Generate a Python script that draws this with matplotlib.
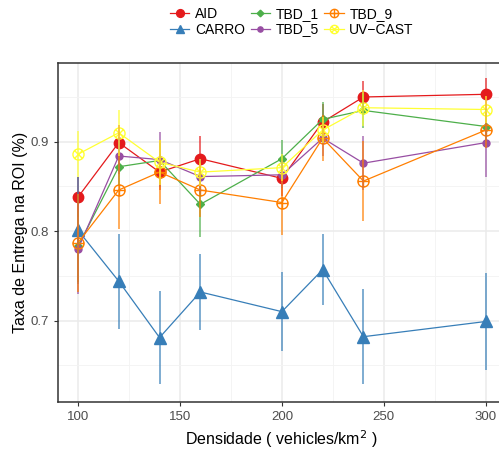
import numpy as np
import matplotlib
matplotlib.use("Agg")
import matplotlib.pyplot as plt
from matplotlib.path import Path
from matplotlib.markers import MarkerStyle

plt.rcParams['font.family'] = ['Liberation Sans', 'DejaVu Sans']

density = [100, 120, 140, 160, 200, 220, 240, 300]

aid = [0.838, 0.899, 0.866, 0.881, 0.859, 0.922, 0.950, 0.953]
aid_err = [0.022, 0.020, 0.020, 0.025, 0.020, 0.020, 0.018, 0.018]

carro = [0.801, 0.744, 0.681, 0.732, 0.710, 0.757, 0.682, 0.699]
carro_err = [0.060, 0.053, 0.052, 0.042, 0.044, 0.040, 0.053, 0.054]

tbd_1 = [0.783, 0.872, 0.879, 0.830, 0.881, 0.925, 0.935, 0.917]
tbd_1_err = [0.040, 0.020, 0.020, 0.037, 0.021, 0.019, 0.020, 0.015]

tbd_5 = [0.780, 0.884, 0.880, 0.861, 0.863, 0.904, 0.876, 0.899]
tbd_5_err = [0.050, 0.020, 0.031, 0.020, 0.015, 0.020, 0.030, 0.038]

tbd_9 = [0.787, 0.846, 0.866, 0.846, 0.832, 0.904, 0.856, 0.913]
tbd_9_err = [0.055, 0.044, 0.036, 0.030, 0.036, 0.026, 0.045, 0.020]

uv_cast = [0.886, 0.910, 0.877, 0.866, 0.871, 0.913, 0.938, 0.936]
uv_cast_err = [0.026, 0.026, 0.025, 0.015, 0.015, 0.015, 0.020, 0.015]


def circle_with(lines):
    circ = Path.unit_circle()
    verts = list(circ.vertices)
    codes = list(circ.codes)
    for (x0, y0), (x1, y1) in lines:
        verts += [(x0, y0), (x1, y1)]
        codes += [Path.MOVETO, Path.LINETO]
    return Path(verts, codes)


d = 0.7071
circle_plus = circle_with([((-1, 0), (1, 0)), ((0, -1), (0, 1))])
circle_x = circle_with([((-d, -d), (d, d)), ((-d, d), (d, -d))])

series = [
    ("AID", aid, aid_err, "#E41A1C", "o", 7.5, True),
    ("CARRO", carro, carro_err, "#377EB8", "^", 8.5, True),
    ("TBD_1", tbd_1, tbd_1_err, "#4DAF4A", "D", 4.5, True),
    ("TBD_5", tbd_5, tbd_5_err, "#984EA3", "o", 5.0, True),
    ("TBD_9", tbd_9, tbd_9_err, "#FF7F00", MarkerStyle(circle_plus), 8.0, False),
    ("UV\u2212CAST", uv_cast, uv_cast_err, "#FFFF33", MarkerStyle(circle_x), 8.0, False),
]

fig = plt.figure(figsize=(4.99, 4.49), dpi=100)
ax = fig.add_axes([0.1154, 0.1047, 0.899, 0.755])

for name, vals, err, col, mk, ms, filled in series:
    ax.plot(density, vals, color=col, lw=0.9, marker=mk, ms=ms,
            mfc=col if filled else 'none', mec=col, mew=1.0,
            label=name, zorder=3)
    ax.errorbar(density, vals, yerr=err, fmt='none', ecolor=col,
                elinewidth=1.2, alpha=0.75, capsize=0, zorder=4)

ax.set_xlim(90, 310)
ax.set_ylim(0.609, 0.988)
ax.set_xticks([100, 150, 200, 250, 300])
ax.set_xticks([125, 175, 225, 275], minor=True)
ax.set_yticks([0.7, 0.8, 0.9])
ax.set_yticks([0.65, 0.75, 0.85, 0.95], minor=True)
ax.grid(which='major', color='#EBEBEB', lw=1.1, zorder=0)
ax.grid(which='minor', color='#F3F3F3', lw=0.6, zorder=0)
ax.set_axisbelow(True)
for sp in ax.spines.values():
    sp.set_color('#333333')
    sp.set_linewidth(1.1)
ax.tick_params(which='major', length=3, color='#333333', labelcolor='#4D4D4D',
               labelsize=9.5)
ax.tick_params(which='minor', length=0)

ax.set_xlabel("Densidade ( vehicles/km$^2$ )", fontsize=11.5, labelpad=4)
ax.set_ylabel("Taxa de Entrega na ROI (%)", fontsize=11.5, labelpad=1.5)

handles, labels = ax.get_legend_handles_labels()
fig.legend(handles, labels, ncol=3, loc='upper center',
           bbox_to_anchor=(0.585, 1.012), frameon=False, fontsize=10,
           handlelength=1.4, handletextpad=0.4, columnspacing=0.4,
           labelspacing=0.1, markerscale=0.75)

fig.savefig("out.png", dpi=100)
